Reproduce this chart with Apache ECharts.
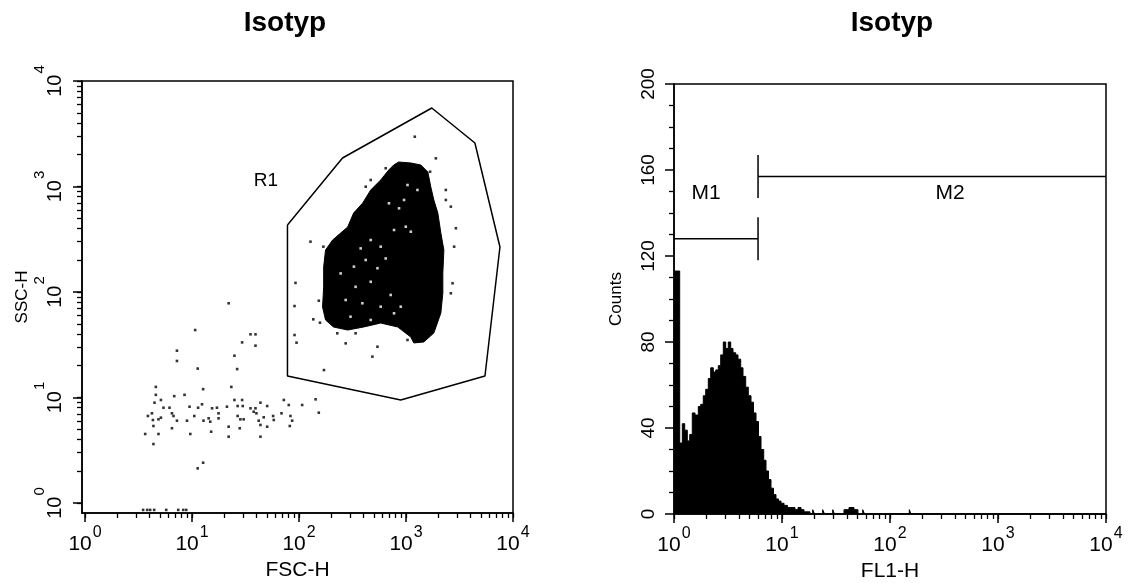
<!DOCTYPE html>
<html><head><meta charset="utf-8">
<script src="https://cdn.jsdelivr.net/npm/echarts@6/dist/echarts.min.js"></script>
<style>html,body{margin:0;padding:0;background:#fff}#c{width:1128px;height:583px}</style>
</head><body><div id="c"></div>
<script>
// ---------- data ----------
const panelTitles = ['Isotyp', 'Isotyp'];
const scatterAxisNames = ['FSC-H', 'SSC-H'];
const histAxisNames = ['FL1-H', 'Counts'];
const decadeTicks = [1, 10, 100, 1000, 10000];
const minorMultipliers = [2, 3, 4, 5, 6, 7, 8, 9];
const countTicks = [0, 40, 80, 120, 160, 200];
const gateLabel = 'R1';
// gate R1 polygon vertices [FSC-H, SSC-H]
const gateR1 = [[78, 432], [78, 16], [893, 9.47], [5470, 16], [7551, 267], [4406, 2585], [1742, 5546], [255, 1862], [78, 432]];
// outline of the saturated (solid black) event cloud [FSC-H, SSC-H]
const denseCluster = [[855,1707],[1109,1671],[1374,1600],[1600,1371],[1706,989],[1820,745],[1983,561],[2117,362],[2259,250],[2209,151],[2209,97.9],[2117,63.2],[1820,40.9],[1467,33.6],[1183,32.9],[1109,37.4],[837,46.6],[580,50.8],[402,46.6],[285,43.6],[210,46.6],[177,54.3],[166,72.1],[170,111.5],[170,172.6],[177,250],[206,311],[245,362],[285,413],[324,561],[394,698],[468,927],[580,1153],[689,1433],[768,1600]];
// unoccupied specks inside the cloud [FSC-H, SSC-H]
const clusterGaps = [[959,745],[861,621],[693,693],[1033,1033],[1279,927],[773,387],[995,416],[1109,373],[468,311],[377,259],[580,269],[420,201],[326,174],[541,168],[646,208],[245,150],[338,112],[468,125],[273,84.0],[391,78.2],[580,72.6],[719,93.7],[303,58.3],[468,54.3],[773,62.8],[893,72.6]];
// individual events [FSC-H, SSC-H]
const sparseEvents = [[22.0,78.2],[10.7,43.6],[7.23,27.8],[7.23,22.2],[11.3,18.8],[29.4,33.3],[35.2,39.7],[39.2,39.7],[39.2,31.0],[24.9,24.9],[26.4,18.6],[12.7,12.0],[23.3,12.6],[4.59,12.6],[4.59,10.6],[6.82,10.3],[8.51,10.6],[4.46,8.93],[5.12,9.47],[5.41,8.00],[6.16,8.00],[9.48,8.18],[11.4,8.00],[12.4,8.62],[15.4,7.90],[17.1,8.00],[21.2,8.18],[24.9,9.47],[26.7,8.30],[29.4,9.47],[29.8,8.30],[35.2,7.90],[39.2,7.90],[43.6,8.93],[50.4,8.30],[72.1,9.47],[80.2,8.49],[107,8.49],[3.87,6.68],[4.22,7.08],[4.31,6.12],[4.86,6.21],[5.12,6.44],[4.36,5.37],[3.65,4.51],[4.36,3.62],[4.86,4.51],[6.49,7.08],[6.71,6.68],[7.23,6.03],[6.49,5.11],[8.97,6.03],[9.64,4.51],[10.5,6.68],[12.8,6.03],[14.3,6.35],[14.8,5.90],[15.1,4.74],[17.7,7.08],[17.7,6.35],[22.0,5.29],[22.0,4.25],[26.7,6.68],[28.3,6.21],[30.4,6.21],[27.9,5.11],[37.7,7.33],[40.0,7.08],[42.0,6.03],[43.6,5.49],[46.8,6.49],[50.4,5.29],[57.3,6.68],[58.1,6.12],[43.6,4.25],[68.6,7.08],[83.2,6.68],[86.3,6.03],[82.0,5.37],[11.3,2.13],[12.7,2.41],[143,9.61],[153,7.18],[92.7,122],[90.8,73.6],[153,82.7],[136,55.1],[157,51.2],[90.8,39.1],[94.8,33.1],[1208,2965],[1901,1849],[128,300],[169,269],[171,18.2],[485,24.4],[541,30.3],[273,32.6],[2624,97.2],[2723,121],[2924,402],[2818,269],[2624,644],[2356,927],[2356,745],[1679,1381],[420,995],[468,1153],[646,1489],[228,40.6],[338,40.6],[1033,35.1],[1233,35.6],[3.49,0.86],[3.81,0.86],[4.06,0.86],[4.43,0.86],[5.74,0.86],[7.43,0.86],[8.28,0.86],[8.83,0.86]];
// FL1-H histogram: [channel start value, counts]
const histFL1 = [[1,113],[1.129,33],[1.194,42],[1.256,39],[1.328,34],[1.398,37],[1.477,47],[1.565,46],[1.679,50],[1.767,51],[1.867,55],[1.966,58],[2.078,63],[2.187,68],[2.312,66],[2.433,67],[2.572,69],[2.707,74],[2.861,80],[3.011,77],[3.183,80],[3.350,77],[3.518,75],[3.726,74],[3.913,72],[4.145,68],[4.354,64],[4.612,59],[4.875,55],[5.164,52],[5.446,47],[5.745,43],[6.059,36],[6.391,30],[6.770,25],[7.109,20],[7.499,16],[7.908,12],[8.342,9],[8.799,7],[9.281,6],[9.788,5],[10.44,4],[11.24,3],[12.12,3],[13.19,2],[14.07,3],[15.00,2],[15.99,1],[17.04,1],[18.17,0],[19.24,2],[20.0,0],[23.8,2],[24.8,0],[29.5,2],[30.6,0],[37.5,2],[41.7,3],[46.4,2],[50.5,0],[55.9,2],[58.1,0],[150.9,2],[156.4,0],[10000,0]];
// histogram markers
const markerNames = ['M1', 'M2'];
const markerRanges = [[1, 6], [6, 10000]];
const markerLevels = [128, 157];
const markerTickHalf = 10;
// axis extents
const fscRange = [0.937, 10000];
const sscRange = [0.804, 10000];
const fl1Range = [1, 10000];
const countRange = [0, 200];

// ---------- chart ----------
const FONT = '"Liberation Sans", Arial, Helvetica, sans-serif';
const BLACK = '#000';
const allLogTicks = [];
decadeTicks.forEach((d, i) => {
  allLogTicks.push(d);
  if (i < decadeTicks.length - 1) minorMultipliers.forEach(m => allLogTicks.push(d * m));
});
const expLabel = v => '{b|10}{e|' + Math.round(Math.log10(v)) + '}';
const xRich = {
  b: { fontSize: 21, lineHeight: 38, color: BLACK, fontFamily: FONT },
  e: { fontSize: 16, lineHeight: 16, verticalAlign: 'top', color: BLACK, fontFamily: FONT, padding: [0, 0, 0, 1] }
};
const yRich = {
  b: { fontSize: 20, lineHeight: 46, color: BLACK, fontFamily: FONT },
  e: { fontSize: 15, lineHeight: 15, verticalAlign: 'top', color: BLACK, fontFamily: FONT, padding: [0, 0, 0, 1] }
};
const lineW = 1.5;

function logAxisMain(gridIndex, range, isY, name, nameGap, nameSize) {
  return {
    gridIndex, type: 'log', logBase: 10, min: range[0], max: range[1],
    position: isY ? 'left' : 'bottom',
    axisLine: { show: true, onZero: false, lineStyle: { color: BLACK, width: lineW } },
    axisTick: { show: true, customValues: allLogTicks, length: 5, lineStyle: { color: BLACK, width: 1.3 } },
    axisLabel: isY
      ? { customValues: decadeTicks, formatter: expLabel, rich: yRich, rotate: 90, margin: 4 }
      : { customValues: decadeTicks, formatter: expLabel, rich: xRich, margin: 12 },
    splitLine: { show: false }, minorTick: { show: false },
    name, nameLocation: 'middle', nameGap,
    nameTextStyle: { fontSize: nameSize, color: BLACK, fontFamily: FONT }
  };
}
function logAxisMajor(gridIndex, range, isY) {
  return {
    gridIndex, type: 'log', logBase: 10, min: range[0], max: range[1],
    position: isY ? 'left' : 'bottom',
    axisLine: { show: false, onZero: false },
    axisTick: { show: true, customValues: decadeTicks, length: 9, lineStyle: { color: BLACK, width: 1.5 } },
    axisLabel: { show: false }, splitLine: { show: false }
  };
}

const option = {
  animation: false,
  backgroundColor: '#fff',
  grid: [
    { left: 82, top: 81, width: 431, height: 432, show: true, borderColor: BLACK, borderWidth: lineW, backgroundColor: 'transparent', containLabel: false, outerBoundsMode: 'none' },
    { left: 674, top: 84, width: 432, height: 430, show: true, borderColor: BLACK, borderWidth: lineW, backgroundColor: 'transparent', containLabel: false, outerBoundsMode: 'none' }
  ],
  xAxis: [
    logAxisMain(0, fscRange, false, scatterAxisNames[0], 44, 21),
    logAxisMajor(0, fscRange, false),
    logAxisMain(1, fl1Range, false, histAxisNames[0], 44, 21),
    logAxisMajor(1, fl1Range, false)
  ],
  yAxis: [
    logAxisMain(0, sscRange, true, scatterAxisNames[1], 51, 17),
    logAxisMajor(0, sscRange, true),
    {
      gridIndex: 1, type: 'value', min: countRange[0], max: countRange[1], interval: 40, position: 'left',
      axisLine: { show: true, onZero: false, lineStyle: { color: BLACK, width: lineW } },
      axisTick: { show: true, length: 9, lineStyle: { color: BLACK, width: 1.5 } },
      minorTick: { show: true, splitNumber: 4, length: 5, lineStyle: { color: BLACK, width: 1.3 } },
      axisLabel: { customValues: countTicks, rotate: 90, margin: 16, fontSize: 19, color: BLACK, fontFamily: FONT },
      splitLine: { show: false }, minorSplitLine: { show: false },
      name: histAxisNames[1], nameLocation: 'middle', nameGap: 49,
      nameTextStyle: { fontSize: 17, color: BLACK, fontFamily: FONT }
    }
  ],
  graphic: [
    { type: 'text', x: 285, y: 23, style: { text: panelTitles[0], font: 'bold 28px ' + FONT, fill: BLACK, textAlign: 'center', textVerticalAlign: 'middle' } },
    { type: 'text', x: 892, y: 23, style: { text: panelTitles[1], font: 'bold 28px ' + FONT, fill: BLACK, textAlign: 'center', textVerticalAlign: 'middle' } },
    { type: 'text', x: 266, y: 181, style: { text: gateLabel, font: '19px ' + FONT, fill: BLACK, textAlign: 'center', textVerticalAlign: 'middle' } },
    { type: 'text', x: 706, y: 193, style: { text: markerNames[0], font: '21px ' + FONT, fill: BLACK, textAlign: 'center', textVerticalAlign: 'middle' } },
    { type: 'text', x: 950, y: 193, style: { text: markerNames[1], font: '21px ' + FONT, fill: BLACK, textAlign: 'center', textVerticalAlign: 'middle' } }
  ],
  series: [
    {
      name: 'cluster', type: 'custom', xAxisIndex: 0, yAxisIndex: 0, coordinateSystem: 'cartesian2d',
      data: [denseCluster[0]], silent: true, z: 2,
      renderItem: (params, api) => ({
        type: 'polygon',
        shape: { points: denseCluster.map(p => api.coord(p)) },
        style: { fill: BLACK, stroke: BLACK, lineWidth: 1 }
      })
    },
    {
      name: 'gaps', type: 'scatter', xAxisIndex: 0, yAxisIndex: 0, data: clusterGaps,
      symbol: 'rect', symbolSize: 2.6, itemStyle: { color: '#fff' }, silent: true, z: 3
    },
    {
      name: 'events', type: 'scatter', xAxisIndex: 0, yAxisIndex: 0, data: sparseEvents,
      symbol: 'rect', symbolSize: 2.6, itemStyle: { color: BLACK }, silent: true, z: 3
    },
    {
      name: gateLabel, type: 'line', xAxisIndex: 0, yAxisIndex: 0, data: gateR1,
      symbol: 'none', lineStyle: { color: BLACK, width: lineW }, silent: true, z: 4
    },
    {
      name: 'FL1-H histogram', type: 'line', xAxisIndex: 2, yAxisIndex: 2, data: histFL1, step: 'end',
      symbol: 'none', lineStyle: { color: BLACK, width: 1 }, areaStyle: { color: BLACK, opacity: 1 }, silent: true, z: 2
    }
  ]
};
markerNames.forEach((nm, i) => {
  const r = markerRanges[i], lv = markerLevels[i];
  option.series.push({
    name: nm, type: 'line', xAxisIndex: 2, yAxisIndex: 2, symbol: 'none', silent: true, z: 5,
    lineStyle: { color: BLACK, width: lineW },
    data: [[r[0], lv], [r[1], lv]]
  });
  option.series.push({
    name: nm + ' edge', type: 'line', xAxisIndex: 2, yAxisIndex: 2, symbol: 'none', silent: true, z: 5,
    lineStyle: { color: BLACK, width: lineW },
    data: [[markerRanges[0][1], lv - markerTickHalf], [markerRanges[0][1], lv + markerTickHalf]]
  });
});
const chart = echarts.init(document.getElementById('c'), null, { renderer: 'canvas' });
chart.setOption(option);
</script>
</body></html>
